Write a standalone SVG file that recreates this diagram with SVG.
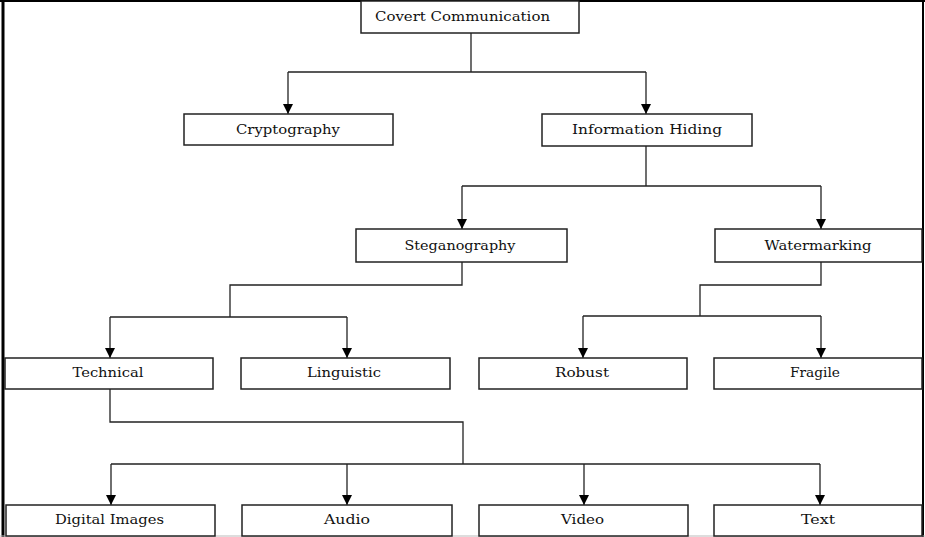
<svg xmlns="http://www.w3.org/2000/svg" width="925" height="537" viewBox="0 0 925 537">
<style>
.box{fill:#fff;stroke:#222;stroke-width:1.5}
.lbl{font-family:"DejaVu Serif","Liberation Serif",serif;font-size:13.5px;fill:#111;text-anchor:middle}
.con{fill:none;stroke:#222;stroke-width:1.3}
</style>
<defs>
<marker id="ah" viewBox="0 0 10 10" refX="10" refY="5" markerWidth="10" markerHeight="10" markerUnits="userSpaceOnUse" orient="auto">
<path d="M0,0 L10,5 L0,10 Z" fill="#000"/>
</marker>
</defs>
<rect x="0" y="0" width="925" height="537" fill="#fff"/>
<g id="frame">
<line x1="0" y1="1" x2="925" y2="1" stroke="#000" stroke-width="2"/>
<line x1="3" y1="0" x2="3" y2="537" stroke="#000" stroke-width="3"/>
<line x1="923" y1="0" x2="923" y2="537" stroke="#000" stroke-width="2"/>
<line x1="0" y1="536" x2="925" y2="536" stroke="#bbb" stroke-width="1"/>
</g>
<g id="connectors">
<path class="con" d="M471,33 V72 M288,72 H646"/>
<path class="con" d="M288,72 V114" marker-end="url(#ah)"/>
<path class="con" d="M646,72 V114" marker-end="url(#ah)"/>
<path class="con" d="M646,146 V186 M462,186 H821"/>
<path class="con" d="M462,186 V229" marker-end="url(#ah)"/>
<path class="con" d="M821,186 V229" marker-end="url(#ah)"/>
<path class="con" d="M462,262 V285 H230 V317 M110,317 H347"/>
<path class="con" d="M110,317 V358" marker-end="url(#ah)"/>
<path class="con" d="M347,317 V358" marker-end="url(#ah)"/>
<path class="con" d="M821,262 V285 H700 V316 M583,316 H821"/>
<path class="con" d="M583,316 V358" marker-end="url(#ah)"/>
<path class="con" d="M821,316 V358" marker-end="url(#ah)"/>
<path class="con" d="M110,389 V422 H463 V464 M111,464 H820"/>
<path class="con" d="M111,464 V505" marker-end="url(#ah)"/>
<path class="con" d="M347,464 V505" marker-end="url(#ah)"/>
<path class="con" d="M584,464 V505" marker-end="url(#ah)"/>
<path class="con" d="M820,464 V505" marker-end="url(#ah)"/>
</g>
<g id="covert"><rect class="box" x="361" y="1" width="218" height="32"/><text class="lbl" x="462.5" y="21" textLength="175" lengthAdjust="spacingAndGlyphs">Covert Communication</text></g>
<g id="cryptography"><rect class="box" x="184" y="114" width="209" height="31"/><text class="lbl" x="288" y="134" textLength="104" lengthAdjust="spacingAndGlyphs">Cryptography</text></g>
<g id="infohiding"><rect class="box" x="542" y="114" width="210" height="32"/><text class="lbl" x="647" y="134" textLength="150" lengthAdjust="spacingAndGlyphs">Information Hiding</text></g>
<g id="steganography"><rect class="box" x="356" y="229" width="211" height="33"/><text class="lbl" x="460" y="250" textLength="111" lengthAdjust="spacingAndGlyphs">Steganography</text></g>
<g id="watermarking"><rect class="box" x="715" y="229" width="207" height="33"/><text class="lbl" x="818" y="250" textLength="107" lengthAdjust="spacingAndGlyphs">Watermarking</text></g>
<g id="technical"><rect class="box" x="5" y="358" width="208" height="31"/><text class="lbl" x="108" y="377" textLength="71" lengthAdjust="spacingAndGlyphs">Technical</text></g>
<g id="linguistic"><rect class="box" x="241" y="358" width="209" height="31"/><text class="lbl" x="344" y="377" textLength="74" lengthAdjust="spacingAndGlyphs">Linguistic</text></g>
<g id="robust"><rect class="box" x="479" y="358" width="208" height="31"/><text class="lbl" x="582" y="377" textLength="54" lengthAdjust="spacingAndGlyphs">Robust</text></g>
<g id="fragile"><rect class="box" x="714" y="358" width="208" height="31"/><text class="lbl" x="815" y="377" textLength="50" lengthAdjust="spacingAndGlyphs">Fragile</text></g>
<g id="digitalimages"><rect class="box" x="6" y="505" width="209" height="31"/><text class="lbl" x="109.5" y="524" textLength="109" lengthAdjust="spacingAndGlyphs">Digital Images</text></g>
<g id="audio"><rect class="box" x="242" y="505" width="210" height="31"/><text class="lbl" x="347" y="524" textLength="46" lengthAdjust="spacingAndGlyphs">Audio</text></g>
<g id="video"><rect class="box" x="479" y="505" width="209" height="31"/><text class="lbl" x="582.5" y="524" textLength="43" lengthAdjust="spacingAndGlyphs">Video</text></g>
<g id="text"><rect class="box" x="714" y="505" width="208" height="31"/><text class="lbl" x="818" y="524" textLength="34" lengthAdjust="spacingAndGlyphs">Text</text></g>
</svg>
